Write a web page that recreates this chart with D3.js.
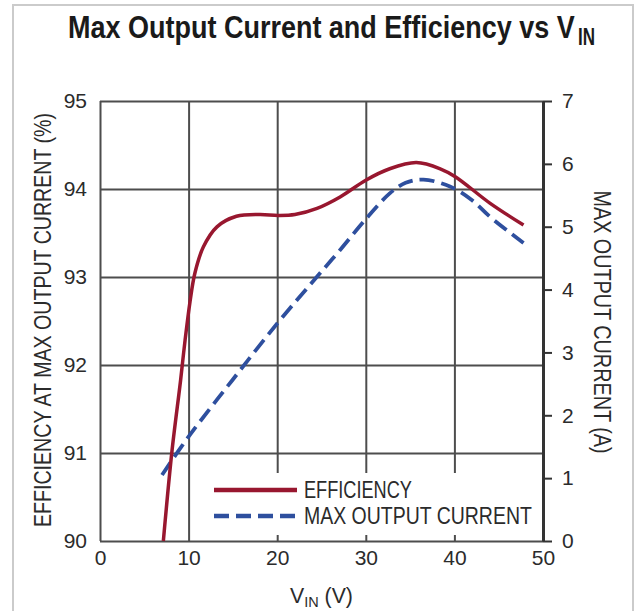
<!DOCTYPE html>
<html lang="en">
<head>
    <meta charset="UTF-8">
    <title>Max Output Current and Efficiency vs VIN</title>
    <script src="https://cdnjs.cloudflare.com/ajax/libs/d3/7.8.5/d3.min.js"></script>
    <style>
        html, body { margin: 0; padding: 0; background: #fff; }
        svg { display: block; font-family: "Liberation Sans", Arial, sans-serif; }
    </style>
</head>
<body>
    <svg id="chart" width="639" height="611"></svg>

    <script>
        // efficiency curve (left axis, %)
        const effVin = [7.15, 8.1, 9.1, 9.6, 10.16, 10.7, 11.66, 13.2, 15.4, 18, 20.1, 22, 24.5, 27.1, 30, 32.7, 35.7, 38.4, 40.1, 44, 47.8];
        const effVal = [90.0, 91.0, 91.83, 92.28, 92.72, 93.04, 93.34, 93.57, 93.69, 93.71, 93.70, 93.71, 93.78, 93.91, 94.10, 94.23, 94.30, 94.23, 94.14, 93.84, 93.59];

        // max output current curve (right axis, A)
        const curVin = [7, 10, 15, 20, 24.1, 27.1, 30, 32.7, 34.5, 36.5, 39.5, 42, 44, 47.8];
        const curVal = [1.05, 1.66, 2.57, 3.46, 4.14, 4.63, 5.12, 5.53, 5.70, 5.75, 5.64, 5.42, 5.16, 4.74];

        const xTicks = [0, 10, 20, 30, 40, 50];
        const effTicks = [90, 91, 92, 93, 94, 95];
        const curTicks = [0, 1, 2, 3, 4, 5, 6, 7];
        const legendLabels = ["EFFICIENCY", "MAX OUTPUT CURRENT"];
        const legendWidths = [108, 228];

        const red = "#98172f", blue = "#2e4f9e", gridColor = "#4d4d4d", ink = "#2b2b2b";
        const pL = 100, pR = 543, pT = 101, pB = 541;

        const svg = d3.select("#chart");

        // squeeze a text horizontally to a target width (condensed look)
        function squeeze(sel, x0, y0, width) {
            const w = sel.node().getComputedTextLength();
            sel.attr("x", 0).attr("y", 0)
                .attr("transform", `translate(${x0},${y0}) scale(${width / w},1)`);
        }

        // outer frame
        svg.append("rect")
            .attr("x", 13).attr("y", 5)
            .attr("width", 620).attr("height", 630)
            .attr("fill", "none")
            .attr("stroke", "#cbcbcb")
            .attr("stroke-width", 2);

        const x = d3.scaleLinear().domain([0, 50]).range([pL, pR]);
        const y = d3.scaleLinear().domain([90, 95]).range([pB, pT]);
        const yR = d3.scaleLinear().domain([0, 7]).range([pB, pT]);
        const fmt = d3.format("d");

        // grid + left labels
        svg.append("g")
            .attr("transform", `translate(${pL},0)`)
            .call(d3.axisLeft(y).tickValues(effTicks).tickFormat(fmt).tickSize(-(pR - pL)).tickPadding(13))
            .call(g => g.select(".domain").remove())
            .call(g => g.selectAll(".tick line").attr("stroke", gridColor).attr("stroke-width", 2));

        svg.append("g")
            .attr("transform", `translate(0,${pB})`)
            .call(d3.axisBottom(x).tickValues(xTicks).tickFormat(fmt).tickSize(-(pB - pT)).tickPadding(9))
            .call(g => g.select(".domain").remove())
            .call(g => g.selectAll(".tick line").attr("stroke", gridColor).attr("stroke-width", 2));

        // right axis
        svg.append("g")
            .attr("transform", `translate(${pR},0)`)
            .call(d3.axisRight(yR).tickValues(curTicks).tickFormat(fmt).tickSize(9).tickPadding(10).tickSizeOuter(0))
            .call(g => g.select(".domain").attr("stroke", "#333").attr("stroke-width", 3))
            .call(g => g.selectAll(".tick line").attr("stroke", "#333").attr("stroke-width", 2));

        svg.selectAll(".tick text")
            .attr("fill", ink)
            .style("font-family", "'Liberation Sans', Arial, sans-serif")
            .style("font-size", "21px");

        // legend background hides the grid behind it
        svg.append("rect")
            .attr("x", 200).attr("y", 473)
            .attr("width", pR - 202).attr("height", 62)
            .attr("fill", "#fff");

        // curves
        const effLine = d3.line()
            .x((d, i) => x(effVin[i]))
            .y(d => y(d))
            .curve(d3.curveCatmullRom.alpha(0.5));

        const curLine = d3.line()
            .x((d, i) => x(curVin[i]))
            .y(d => yR(d))
            .curve(d3.curveCatmullRom.alpha(0.5));

        svg.append("path")
            .attr("d", curLine(curVal))
            .attr("fill", "none")
            .attr("stroke", blue)
            .attr("stroke-width", 3.8)
            .attr("stroke-dasharray", "15 7");

        svg.append("path")
            .attr("d", effLine(effVal))
            .attr("fill", "none")
            .attr("stroke", red)
            .attr("stroke-width", 3.5);

        // legend
        const legend = svg.append("g");
        legend.append("line")
            .attr("x1", 214).attr("x2", 297).attr("y1", 490).attr("y2", 490)
            .attr("stroke", red).attr("stroke-width", 4.5);
        legend.append("line")
            .attr("x1", 214).attr("x2", 297).attr("y1", 516).attr("y2", 516)
            .attr("stroke", blue).attr("stroke-width", 4.5)
            .attr("stroke-dasharray", "15 7");
        legend.selectAll("text")
            .data(legendLabels)
            .enter()
            .append("text")
            .attr("fill", ink)
            .style("font-size", "23px")
            .text(d => d)
            .each(function (d, i) { squeeze(d3.select(this), 304, 498 + i * 26, legendWidths[i]); });

        // title
        const title = svg.append("text")
            .attr("fill", "#1a1a1a")
            .style("font-size", "32px").style("font-weight", "bold")
            .text("Max Output Current and Efficiency vs V");
        squeeze(title, 68, 38, 507);
        const titleSub = svg.append("text")
            .attr("fill", "#1a1a1a")
            .style("font-size", "23px").style("font-weight", "bold")
            .text("IN");
        squeeze(titleSub, 578, 45, 17);

        // axis titles
        svg.append("text")
            .attr("transform", "translate(51,320) rotate(-90)")
            .attr("text-anchor", "middle")
            .attr("textLength", 414)
            .attr("lengthAdjust", "spacingAndGlyphs")
            .attr("fill", ink)
            .style("font-size", "24px")
            .text("EFFICIENCY AT MAX OUTPUT CURRENT (%)");

        svg.append("text")
            .attr("transform", "translate(594,322) rotate(90)")
            .attr("text-anchor", "middle")
            .attr("textLength", 263)
            .attr("lengthAdjust", "spacingAndGlyphs")
            .attr("fill", ink)
            .style("font-size", "23px")
            .text("MAX OUTPUT CURRENT (A)");

        const xt = svg.append("text")
            .attr("fill", ink)
            .style("font-size", "22px");
        xt.append("tspan").text("V");
        xt.append("tspan").attr("dy", 4).style("font-size", "15px").text("IN");
        xt.append("tspan").attr("dy", -4).text(" (V)");
        squeeze(xt, 290, 603, 63);
    </script>
</body>
</html>
